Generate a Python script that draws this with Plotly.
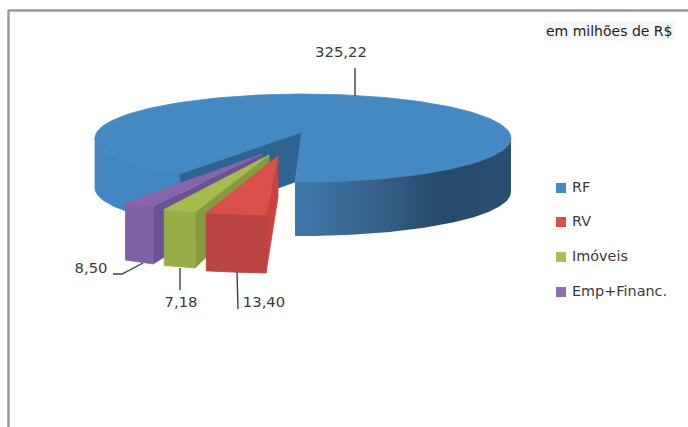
import numpy as np
import plotly.graph_objects as go

# ---- data ----
categories = ["RF", "RV", "Imóveis", "Emp+Financ."]
values = [325.22, 13.40, 7.18, 8.50]
unit_note = "em milhões de R$"

# ---- style ----
top_colors = ["#4589C3", "#D94F4A", "#A6BC4D", "#8765AB"]
front_colors = ["#4186C1", "#B94441", "#98AD48", "#7F62A6"]
wall_colors = ["#2F6491", "#C6433F", "#869A3F", "#6A5291"]
legend_colors = ["#4589C3", "#D9504A", "#A9BF55", "#8D6FB3"]

# ---- projection of the pie onto the page (page pixels) ----
CX, CY, RX, RY = 303, 138, 208, 44
APEX = (302, 132)
START_DEG = 92.2
GAP_STRETCH = 1.15          # perspective widening of the small slices
DEPTH_R, DEPTH_L = 54, 50
# per slice: arc scale, explode dx, dy, front depth, tip dx, tip dy, tip depth
explode = {
    "RV": (1.07, -28.5, 33, 58, -24, 24, 41),
    "Imóveis": (1.10, -37.6, 32, 56, -33, 23, 41),
    "Emp+Financ.": (0.90, -67.0, 29.5, 57, -40, 22, 41),
}
# label anchors and leader lines, one per slice
label_pos = [(341, 53), (264, 303), (181, 303), (91, 269)]
leaders = [
    [(355, 68), (355, 96)],
    [(237, 272), (238, 309)],
    [(180, 268), (180, 290)],
    [(113, 274), (122, 274), (143, 263)],
]
legend_x, legend_ys = 561, [188, 222, 257, 292]
legend_text_x = 572


def arc(t1, t2, n=90, scale=1.0, dx=0.0, dy=0.0):
    t = np.radians(np.linspace(t1, t2, n))
    return CX + dx + scale * RX * np.cos(t), CY + dy + RY * np.sin(t)


def poly(fig, x, y, color, name, **kw):
    # a hairline in the fill colour closes the anti-aliasing seams between faces
    line = dict(width=0) if "fillgradient" in kw else dict(width=0.8, color=color)
    fig.add_trace(go.Scatter(
        x=list(x) + [x[0]], y=list(y) + [y[0]], mode="lines", fill="toself",
        fillcolor=color, line=line, name=name, hoverinfo="skip",
        showlegend=False, **kw))


total = sum(values)
sweeps = [v / total * 360 for v in values]
small = [s * GAP_STRETCH for s in sweeps[1:]]
edges = np.concatenate([[START_DEG], START_DEG + np.cumsum(small)])
gap_end = edges[-1]

fig = go.Figure()

# --- big slice: outer sides ---
x, y = arc(START_DEG, 0)
d = DEPTH_R
poly(fig, np.r_[x, x[::-1]], np.r_[y - 2, y[::-1] + d], "#2F6491", "RF side",
     fillgradient=dict(type="horizontal", colorscale=[
         [0, "#3C78AB"], [0.35, "#38648C"], [0.68, "#264A6A"], [1, "#2A4F70"]]))
x, y = arc(gap_end, 180)
poly(fig, np.r_[x, x[::-1]], np.r_[y, y[::-1] + DEPTH_L], front_colors[0], "RF side left")

# --- inner wall of the gap ---
lx, ly = arc(gap_end, gap_end, 1)
rx, ry = arc(START_DEG, START_DEG, 1)
poly(fig, [APEX[0], lx[0], lx[0], APEX[0] - 24, rx[0]],
     [APEX[1], ly[0], ly[0] + 9, APEX[1] + 56, ry[0]], wall_colors[0], "RF wall")

# --- big slice: top ---
x, y = arc(START_DEG, gap_end - 360, 240)
poly(fig, np.r_[APEX[0], x], np.r_[APEX[1], y], top_colors[0], categories[0])

# --- exploded slices, back to front ---
for i in [3, 2, 1]:
    s, dx, dy, depth, tx, ty, td = explode[categories[i]]
    x, y = arc(edges[i - 1], edges[i], 24, s, dx, dy)
    tipx, tipy = APEX[0] + tx, APEX[1] + ty
    # radial wall on the right of the slice
    poly(fig, [tipx, x[0], x[0], tipx], [tipy, y[0], y[0] + depth, tipy + td],
         wall_colors[i], categories[i] + " wall")
    # outer front face
    poly(fig, np.r_[x, x[::-1]], np.r_[y, y[::-1] + depth], front_colors[i],
         categories[i] + " front")
    # top face
    poly(fig, np.r_[tipx, x], np.r_[tipy, y], top_colors[i], categories[i] + " top")

# --- leader lines ---
for pts in leaders:
    fig.add_trace(go.Scatter(x=[p[0] for p in pts], y=[p[1] for p in pts], mode="lines",
                             line=dict(color="#404040", width=1.4), hoverinfo="skip",
                             showlegend=False))

# --- value labels ---
fig.add_trace(go.Scatter(
    x=[p[0] for p in label_pos], y=[p[1] for p in label_pos], mode="text",
    text=[f"{v:.2f}".replace(".", ",") for v in values], textposition="middle center",
    textfont=dict(family="DejaVu Sans", size=14.8, color="#3A3A3A"),
    hoverinfo="skip", showlegend=False))

# --- legend ---
fig.add_trace(go.Scatter(
    x=[legend_x] * len(categories), y=legend_ys, mode="markers",
    marker=dict(symbol="square", size=10, color=legend_colors),
    hoverinfo="skip", showlegend=False))
fig.add_trace(go.Scatter(
    x=[legend_text_x] * len(categories), y=legend_ys, mode="text",
    text=categories, textposition="middle right",
    textfont=dict(family="DejaVu Sans", size=14.4, color="#3A3A3A"),
    hoverinfo="skip", showlegend=False))

fig.add_annotation(x=609, y=31, xref="x", yref="y", text=unit_note, showarrow=False,
                   font=dict(family="DejaVu Sans", size=14, color="#222222"),
                   bgcolor="#F6F6F6")

# --- frame of the picture ---
fig.add_shape(type="line", x0=8, x1=688, y0=10.5, y1=10.5, xref="x", yref="y",
              line=dict(color="#9A9A9A", width=2.5))
fig.add_shape(type="line", x0=8.5, x1=8.5, y0=10, y1=427, xref="x", yref="y",
              line=dict(color="#9A9A9A", width=2.5))

fig.update_xaxes(range=[0, 688], visible=False, fixedrange=True)
fig.update_yaxes(range=[427, 0], visible=False, fixedrange=True)
fig.update_layout(width=688, height=427, autosize=False,
                  margin=dict(l=0, r=0, t=0, b=0),
                  paper_bgcolor="white", plot_bgcolor="white", showlegend=False)
fig.write_html("out.html", config={"displayModeBar": False},
               post_script="document.body.style.margin='0';document.documentElement.style.overflow='hidden';")
